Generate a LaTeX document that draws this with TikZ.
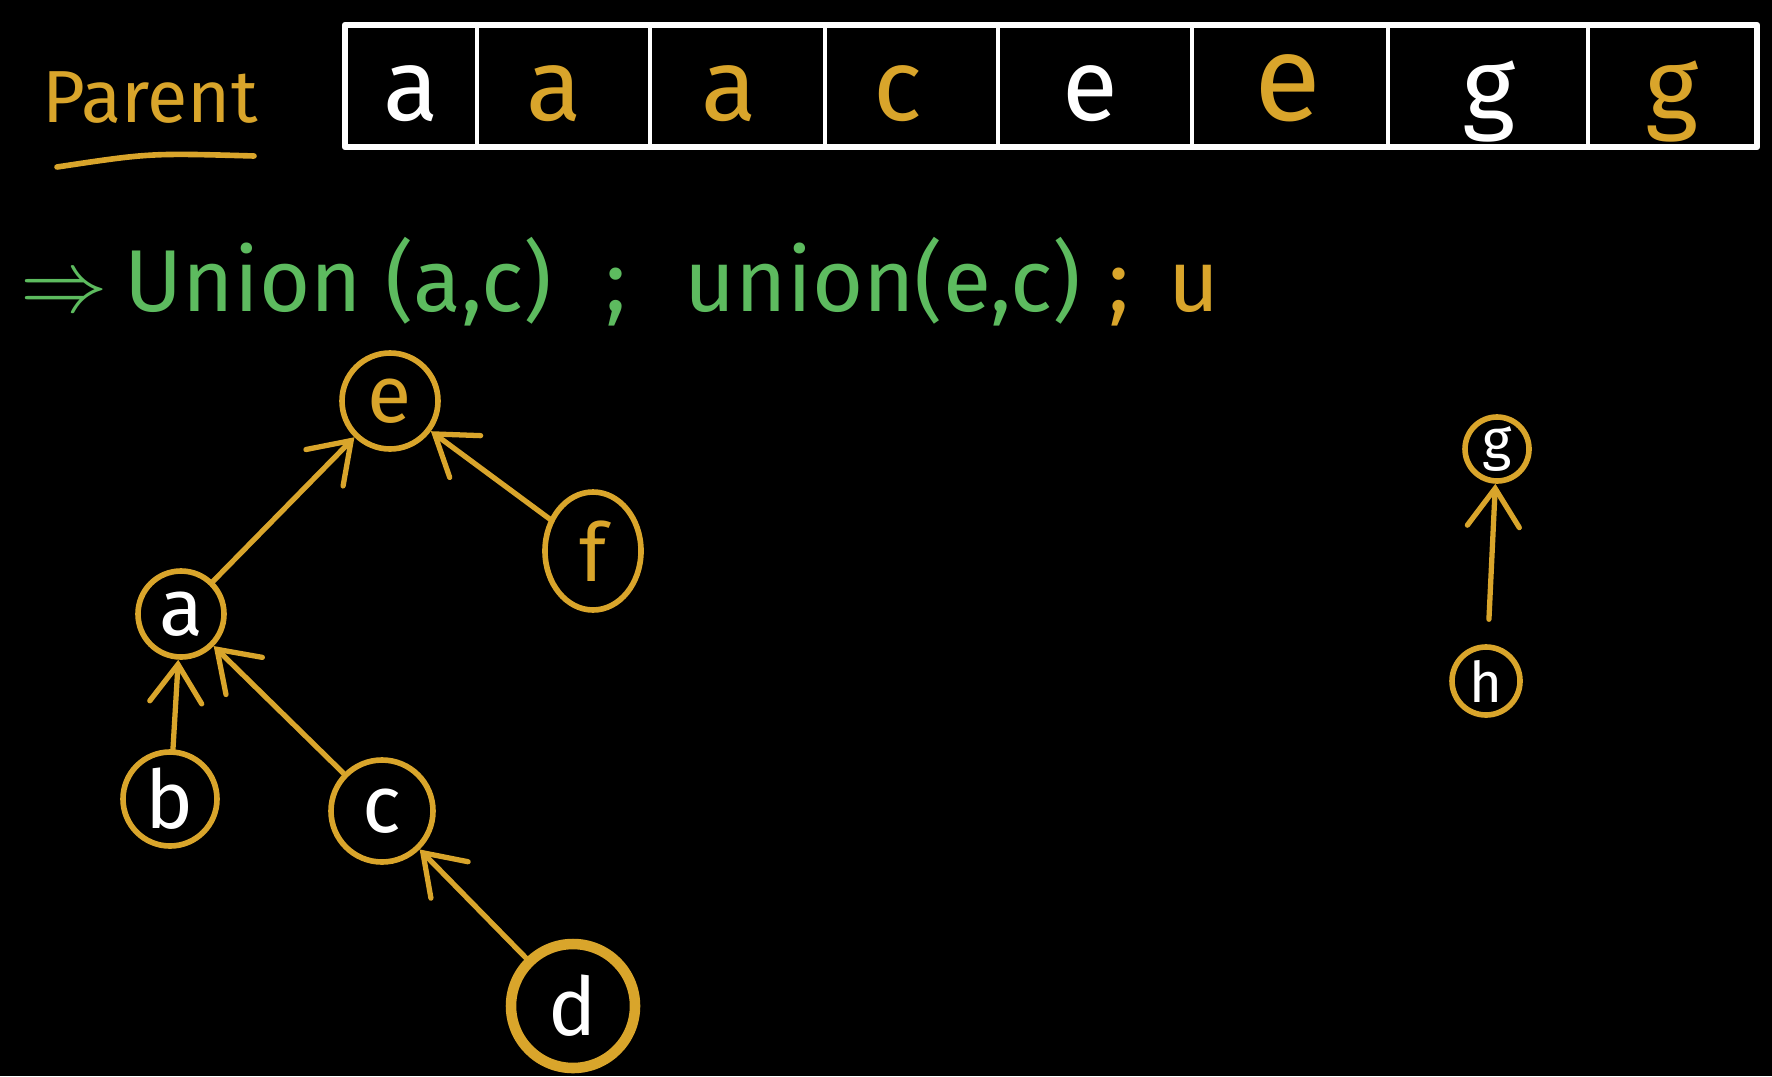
\documentclass[tikz,border=0pt]{standalone}
\usepackage{fontspec}
\setmainfont{Fira Sans}
\usepackage{xcolor}
\usepackage{tikz}
\usetikzlibrary{arrows.meta,shapes.geometric}
\definecolor{board}{HTML}{000000}
\definecolor{chalk}{HTML}{FFFFFF}
\definecolor{gold}{HTML}{D9A52B}
\definecolor{leaf}{HTML}{5DBB5F}
\tikzset{
  slot/.style={draw=chalk, line width=1.8pt, line join=round},
  sep/.style={draw=chalk, line width=1.1pt},
  cell/.style={anchor=base, inner sep=0pt, font=\fontsize{29}{34}\selectfont},
  vtx/.style={circle, draw=gold, line width=1.6pt, text=chalk, inner sep=0pt, font=\fontsize{23}{28}\selectfont},
  small/.style={vtx, font=\fontsize{16}{20}\selectfont},
  link/.style={draw=gold, line width=1.5pt, line cap=round, -{Straight Barb[length=3.8mm,width=5.2mm,line cap=round]}},
  op/.style={anchor=base west, inner sep=0pt, text=leaf, font=\fontsize{25}{30}\selectfont},
}
\begin{document}
\begin{tikzpicture}[x=0.1mm,y=-0.1mm]
  \fill[board] (0,0) rectangle (1772,1076);
  \useasboundingbox (0,0) rectangle (1772,1076);
  \node[text=gold, font=\fontsize{21}{26}\selectfont, anchor=base] (par) at (150,122) {Parent};
  \draw[gold, line width=1.6pt, line cap=round] (57,167) .. controls (150,153) .. (254,156);
  \draw[slot] (345,25) rectangle (1757,147);
  \foreach \x in {477,650,825,998,1192,1388,1588}
    \draw[sep] (\x,25) -- (\x,147);
  \foreach \x/\l/\c/\s [count=\i] in {411/a/chalk/1, 554/a/gold/1, 729/a/gold/1, 898/c/gold/1,
      1090/e/chalk/1, 1288/e/gold/1.2, 1489/g/chalk/1, 1672/g/gold/1}
    \node[cell, text=\c, scale=\s] (p\i) at (\x,120) {\l};
  \node[op] (imp) at (20,311) {$\Rightarrow$};
  \node[op] (u1) at (124,311) {Union (a,c)};
  \node[op] (s1) at (605,311) {;};
  \node[op] (u2) at (684,311) {union(e,c)};
  \node[op, text=gold] (s2) at (1108,311) {;};
  \node[op, text=gold] (u3) at (1168,311) {u};
  \node[vtx, text=gold, minimum size=9.6mm] (e) at (390,401) {e};
  \node[vtx, ellipse, text=gold, minimum width=9.6mm, minimum height=11.8mm] (f) at (593,551) {f};
  \node[vtx, minimum size=8.6mm] (a) at (181,614) {a};
  \node[vtx, minimum size=9.4mm] (b) at (170,799) {b};
  \node[vtx, minimum size=10.2mm] (c) at (382,811) {c};
  \node[vtx, line width=3pt, minimum size=12.4mm] (d) at (573,1006) {d};
  \node[small, minimum size=6.4mm] (g) at (1497,449) {g};
  \node[small, minimum size=6.8mm] (h) at (1486,681) {h};
  \draw[link] (a) -- (e);
  \draw[link] (f) -- (e);
  \draw[link] (b) -- (a);
  \draw[link] (c) -- (a);
  \draw[link] (d) -- (c);
  \draw[link, shorten <=2.5mm] (h) -- (g);
\end{tikzpicture}
\end{document}
